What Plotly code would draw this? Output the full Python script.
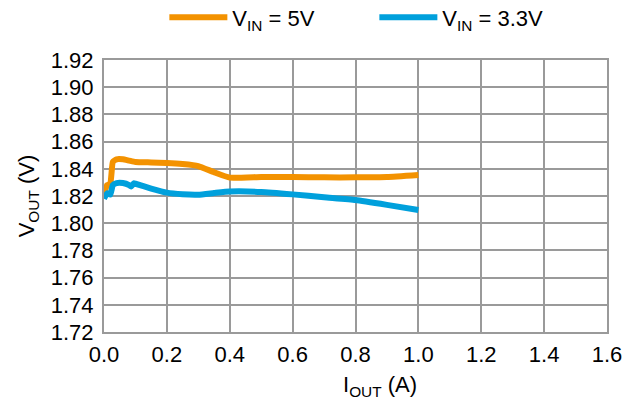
import plotly.graph_objects as go

i_5v = [0.0, 0.01, 0.02, 0.028, 0.04, 0.06, 0.08, 0.1, 0.15, 0.2, 0.25, 0.3, 0.35, 0.4, 0.5, 0.6, 0.7, 0.8, 0.9, 1.0]
v_5v = [1.822, 1.828, 1.829, 1.845, 1.847, 1.847, 1.846, 1.845, 1.8447, 1.8443, 1.8435, 1.842, 1.8375, 1.8335, 1.834, 1.834, 1.8337, 1.8337, 1.834, 1.8355]

i_33v = [0.0, 0.01, 0.02, 0.028, 0.04, 0.06, 0.08, 0.086, 0.095, 0.1, 0.15, 0.2, 0.25, 0.3, 0.35, 0.4, 0.5, 0.6, 0.7, 0.8, 0.9, 1.0]
v_33v = [1.818, 1.822, 1.821, 1.828, 1.8295, 1.8295, 1.828, 1.827, 1.8293, 1.829, 1.8255, 1.8225, 1.8213, 1.821, 1.8222, 1.8233, 1.823, 1.8212, 1.819, 1.817, 1.8135, 1.8097]

x_ticks = [0.0, 0.2, 0.4, 0.6, 0.8, 1.0, 1.2, 1.4, 1.6]
y_ticks = [1.72, 1.74, 1.76, 1.78, 1.80, 1.82, 1.84, 1.86, 1.88, 1.90, 1.92]

x_title = "I<sub>OUT</sub> (A)"
y_title = "V<sub>OUT</sub> (V)"

FS = 22

fig = go.Figure()
fig.add_trace(go.Scatter(x=i_5v, y=v_5v, mode="lines", name="V<sub>IN</sub> = 5V",
                         line=dict(color="#F39200", width=6, shape="spline", smoothing=0.4)))
fig.add_trace(go.Scatter(x=i_33v, y=v_33v, mode="lines", name="V<sub>IN</sub> = 3.3V",
                         line=dict(color="#00A0DC", width=6, shape="spline", smoothing=0.4)))

axis_common = dict(showgrid=True, gridcolor="#9a9a9a", gridwidth=2, showline=True,
                   linecolor="#9a9a9a", linewidth=2, mirror=True, zeroline=False,
                   ticks="", tickfont=dict(size=FS, color="#000"))
fig.update_layout(
    width=641, height=408,
    margin=dict(l=104, r=34, t=60, b=76, autoexpand=False),
    paper_bgcolor="white", plot_bgcolor="white",
    font=dict(family="Liberation Sans, Arial", color="#000", size=FS),
    xaxis=dict(range=[0, 1.6], tickvals=x_ticks, tickformat=".1f", **axis_common),
    yaxis=dict(range=[1.72, 1.92], tickvals=y_ticks, tickformat=".2f",
               title=dict(text=y_title, font=dict(size=FS), standoff=10), **axis_common),
    legend=dict(orientation="h", x=0.12, xanchor="left", y=1.156, yanchor="middle",
                font=dict(size=FS), itemwidth=58, entrywidth=137, entrywidthmode="pixels",
                bgcolor="rgba(0,0,0,0)"),
    showlegend=True,
)
fig.add_annotation(text=x_title, xref="paper", yref="paper", x=0.549, y=-0.199,
                   xanchor="center", yanchor="middle", showarrow=False,
                   font=dict(size=FS, color="#000"))
fig.update_yaxes(ticklabelstandoff=4)
fig.update_xaxes(ticklabelstandoff=2)
fig.write_html("out.html")
